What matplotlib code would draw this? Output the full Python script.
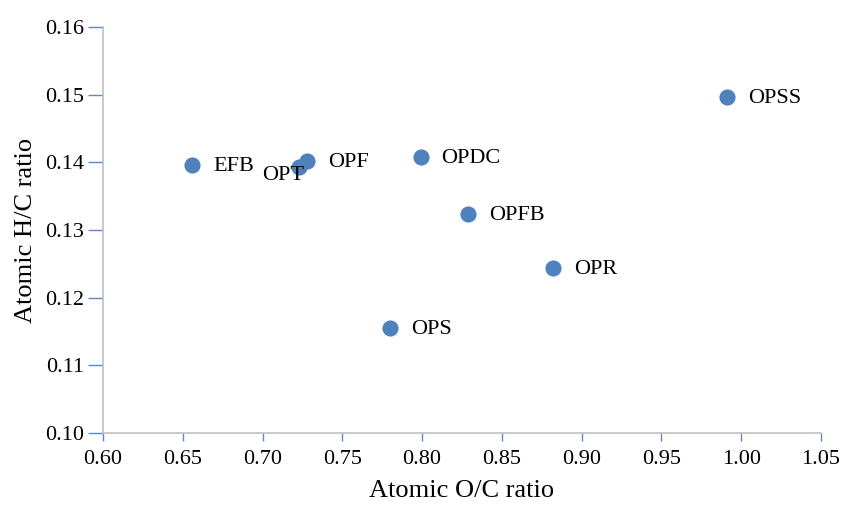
import matplotlib.pyplot as plt

# biomass samples: atomic O/C vs H/C
names = ['EFB', 'OPT', 'OPF', 'OPDC', 'OPFB', 'OPR', 'OPS', 'OPSS']
oc = [0.656, 0.723, 0.728, 0.799, 0.829, 0.882, 0.780, 0.991]
hc = [0.1396, 0.1393, 0.1402, 0.1408, 0.1323, 0.1244, 0.1155, 0.1496]

# label offsets in points (OPT sits under OPF, so its label goes below-left)
offsets = {n: (15, -1) for n in names}
offsets['OPT'] = (-27, -6)

plt.rcParams['font.family'] = ['Liberation Serif', 'DejaVu Serif']

fig = plt.figure(figsize=(8.41, 5.05), dpi=100)
ax = fig.add_axes([103/841, 72/505, 718/841, 406/505])

ax.scatter(oc, hc, s=135, color='#4f81bd', zorder=3, linewidths=0)
for n, x, y in zip(names, oc, hc):
    ax.annotate(n, (x, y), xytext=offsets[n], textcoords='offset points',
                ha='left', va='center', fontsize=16, color='black')

ax.set_xlim(0.60, 1.05)
ax.set_ylim(0.10, 0.16)
ax.set_xticks([0.60 + 0.05*i for i in range(10)])
ax.set_yticks([0.10 + 0.01*i for i in range(7)])
ax.xaxis.set_major_formatter(plt.FormatStrFormatter('%.2f'))
ax.yaxis.set_major_formatter(plt.FormatStrFormatter('%.2f'))

for side in ['top', 'right']:
    ax.spines[side].set_visible(False)
for side in ['left', 'bottom']:
    ax.spines[side].set_color('#c0c0c0')
    ax.spines[side].set_linewidth(1.2)

ax.tick_params(axis='x', direction='out', length=6, width=1, color='#5b86d0',
               labelsize=16, pad=6)
ax.tick_params(axis='y', direction='out', length=10.5, width=1, color='#5b86d0',
               labelsize=16, pad=3)

ax.set_xlabel('Atomic O/C ratio', fontsize=19, labelpad=8)
ax.set_ylabel('Atomic H/C ratio', fontsize=19, labelpad=6)

plt.savefig('out.png', dpi=100)
